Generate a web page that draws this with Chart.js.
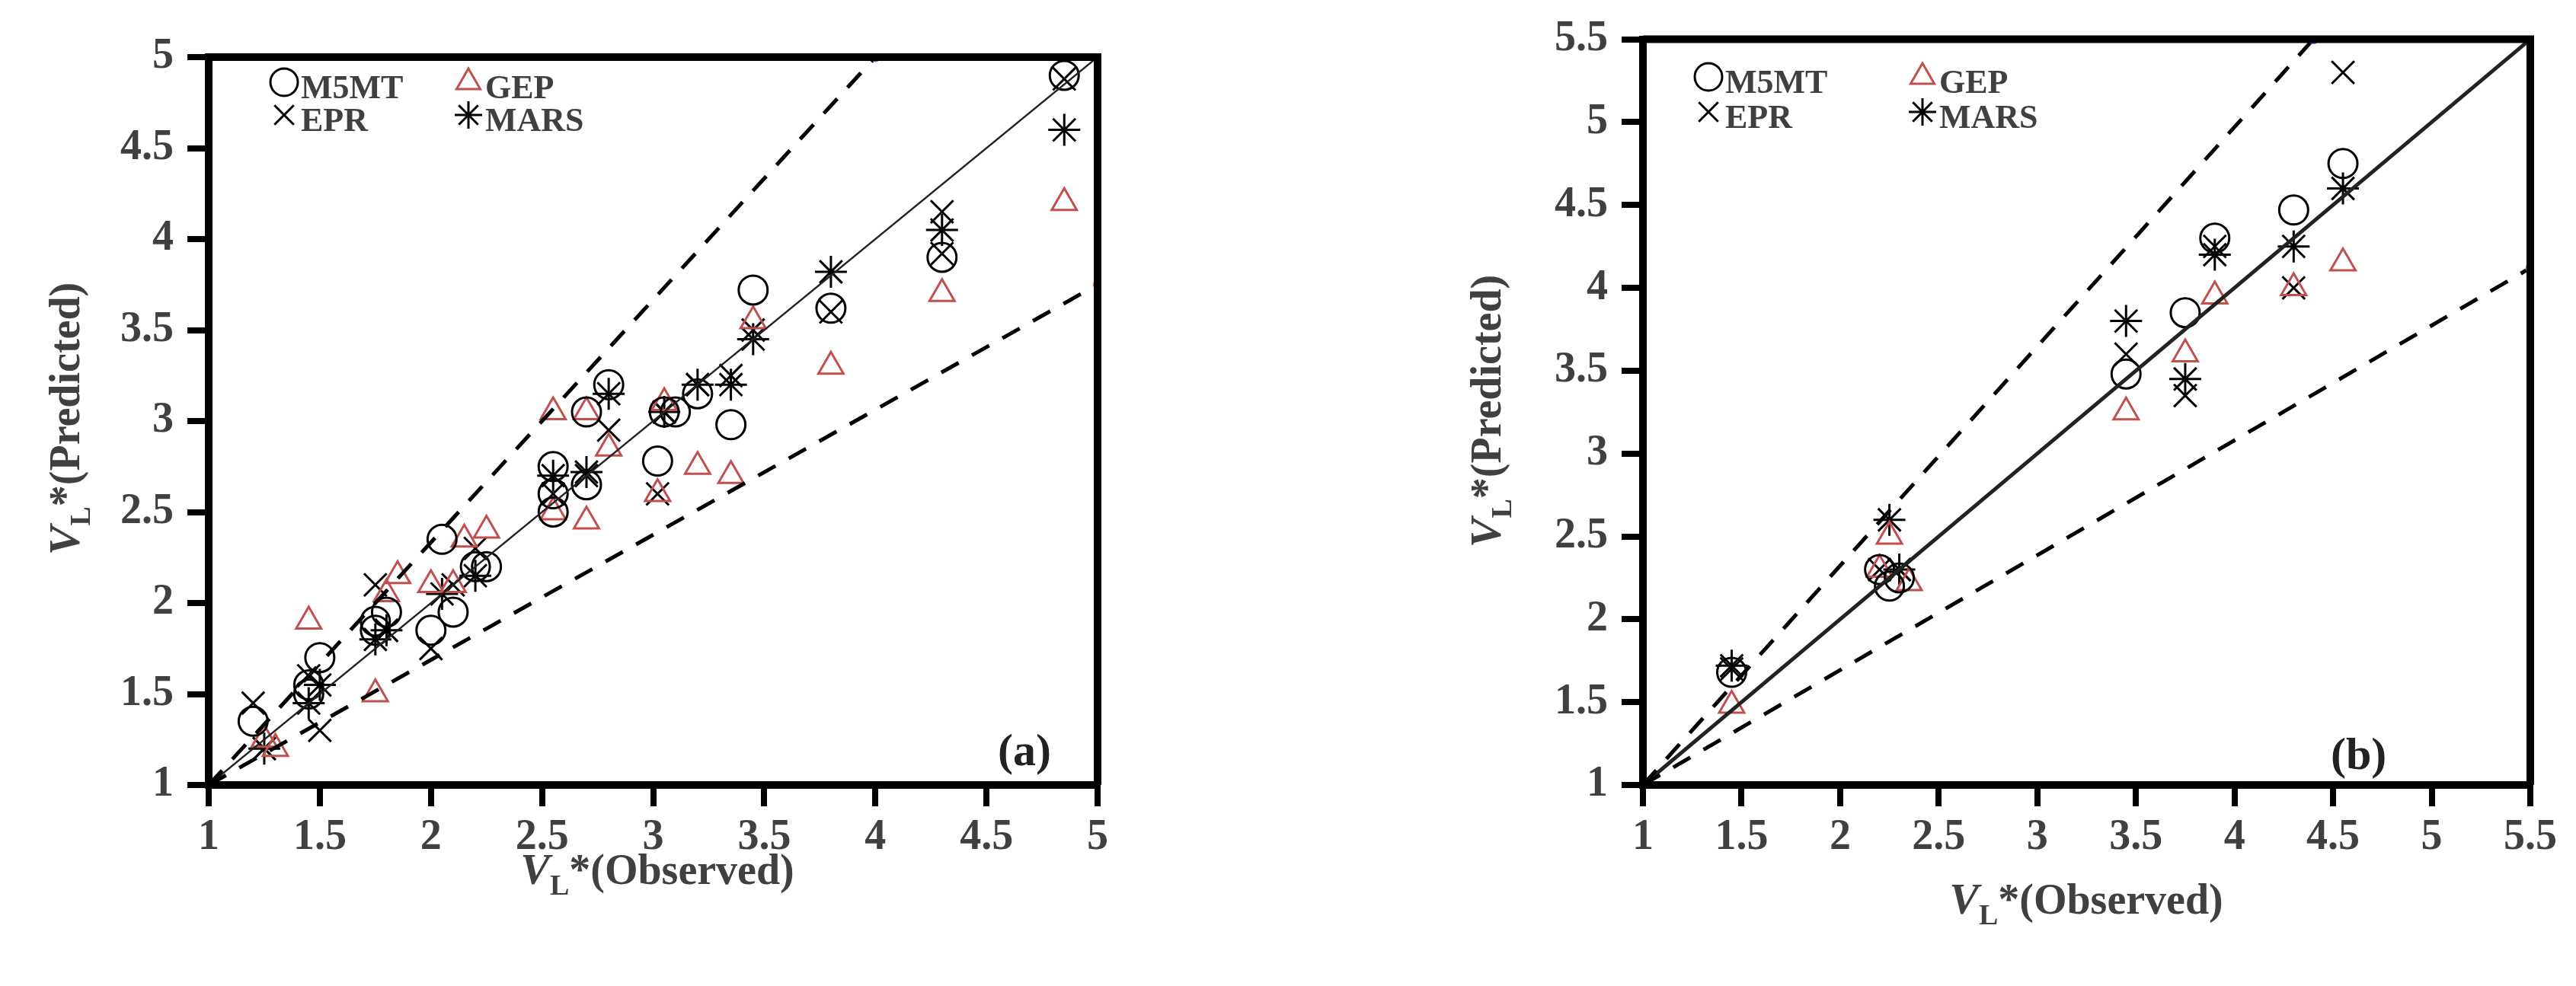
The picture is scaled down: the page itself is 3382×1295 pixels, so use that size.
<!DOCTYPE html><html><head><meta charset="utf-8">
<script src="https://cdn.jsdelivr.net/npm/chart.js@4"></script>
<style>body{margin:0;width:3382px;height:1295px;background:#fff;position:relative;overflow:hidden}
.c{position:absolute;top:0;height:1295px}</style></head><body>
<div class="c" style="left:0;width:1600px"><canvas id="a"></canvas></div>
<div class="c" style="left:1700px;width:1682px"><canvas id="b"></canvas></div>
<script>
const aTicks=["1","1.5","2","2.5","3","3.5","4","4.5","5"];
const bTicks=["1","1.5","2","2.5","3","3.5","4","4.5","5","5.5"];
const aM5MT=[[1.2,1.35],[1.45,1.5],[1.45,1.55],[1.5,1.7],[1.75,1.85],[1.75,1.9],[1.8,1.95],[2,1.85],[2.05,2.35],[2.1,1.95],[2.2,2.2],[2.25,2.2],[2.55,2.75],[2.55,2.5],[2.55,2.6],[2.7,3.05],[2.7,2.65],[2.8,3.2],[3.02,2.78],[3.05,3.05],[3.1,3.05],[3.2,3.15],[3.35,2.98],[3.45,3.72],[3.8,3.62],[4.3,3.9],[4.85,4.9]];
const aGEP=[[1.25,1.25],[1.3,1.2],[1.45,1.9],[1.75,1.5],[1.8,2.05],[1.85,2.15],[2,2.1],[2.1,2.1],[2.15,2.35],[2.25,2.4],[2.55,3.05],[2.55,2.5],[2.7,2.45],[2.7,3.05],[2.8,2.85],[3.02,2.6],[3.05,3.1],[3.2,2.75],[3.35,2.7],[3.45,3.55],[3.8,3.3],[4.3,3.7],[4.85,4.2]];
const aEPR=[[1.2,1.45],[1.25,1.2],[1.45,1.6],[1.5,1.3],[1.75,2.1],[1.8,1.85],[2,1.75],[2.1,2.1],[2.2,2.3],[2.55,2.6],[2.7,2.7],[2.8,2.95],[3.02,2.6],[3.05,3.05],[3.2,3.2],[3.35,3.25],[3.45,3.5],[3.8,3.6],[4.3,4.15],[4.3,3.92],[4.85,4.88]];
const aMARS=[[1.25,1.2],[1.45,1.45],[1.5,1.55],[1.75,1.8],[1.8,1.85],[2.05,2.05],[2.2,2.15],[2.55,2.7],[2.7,2.72],[2.8,3.15],[3.05,3.05],[3.2,3.2],[3.35,3.2],[3.45,3.45],[3.8,3.82],[4.3,4.05],[4.85,4.6]];
const bM5MT=[[1.45,1.68],[2.2,2.3],[2.25,2.2],[2.3,2.25],[3.45,3.48],[3.75,3.85],[3.9,4.3],[4.3,4.47],[4.55,4.75]];
const bGEP=[[1.45,1.48],[2.2,2.3],[2.25,2.5],[2.35,2.22],[3.45,3.25],[3.75,3.6],[3.9,3.95],[4.3,4.0],[4.55,4.15]];
const bEPR=[[1.45,1.7],[2.2,2.3],[2.3,2.3],[3.45,3.6],[3.75,3.35],[3.9,4.25],[4.3,4.0],[4.55,5.3]];
const bMARS=[[1.45,1.72],[2.25,2.6],[2.3,2.3],[3.45,3.8],[3.75,3.45],[3.9,4.2],[4.3,4.25],[4.55,4.6]];
const aLines={ideal:[[1,1],[5,5]],upper:[[1,1],[4,5]],lower:[[1,1],[5,3.75]]};
const bLines={ideal:[[1,1],[5.5,5.5]],upper:[[1,1],[4.4,5.5]],lower:[[1,1],[5.5,4.12]]};
const RED='#c0504d';
const pts=a=>a.map(p=>({x:p[0],y:p[1]}));
function drawVL(ctx,x,y,suf,rot){
  ctx.save();ctx.translate(x,y);if(rot)ctx.rotate(-Math.PI/2);
  ctx.fillStyle='#404040';ctx.textBaseline='alphabetic';
  const f1='italic bold 58px "Liberation Serif"',f2='bold 38px "Liberation Serif"',f3='bold 56px "Liberation Serif"';
  ctx.font=f1;const w1=ctx.measureText('V').width;ctx.font=f2;const w2=ctx.measureText('L').width;ctx.font=f3;const w3=ctx.measureText(suf).width;
  let sx=-(w1+w2+w3)/2;
  ctx.font=f1;ctx.fillText('V',sx,18);ctx.font=f2;ctx.fillText('L',sx+w1,32);ctx.font=f3;ctx.fillText(suf,sx+w1+w2,18);
  ctx.restore();
}
function make(id,cfg){
  const ds=[
    {data:pts(cfg.lines.upper),showLine:true,borderDash:[26,20],borderWidth:5,borderColor:'#000',pointRadius:[0,5],pointBackgroundColor:'#fff',pointBorderColor:'#4a7ab5',pointBorderWidth:3},
    {data:pts(cfg.lines.lower),showLine:true,borderDash:[26,20],borderWidth:5,borderColor:'#000',pointRadius:[0,5],pointBackgroundColor:'#fff',pointBorderColor:cfg.lowCol,pointBorderWidth:3},
    {data:pts(cfg.lines.ideal),showLine:true,borderWidth:cfg.idealW,borderColor:'#222',pointRadius:[0,cfg.idealPt],pointBackgroundColor:'#fff',pointBorderColor:'#4a7ab5',pointBorderWidth:3},
    {data:pts(cfg.m5),showLine:false,pointStyle:'circle',pointRadius:19,borderColor:'#000',backgroundColor:'transparent',pointBorderWidth:3},
    {data:pts(cfg.gep),showLine:false,pointStyle:'triangle',pointRadius:19,borderColor:RED,backgroundColor:'transparent',pointBorderWidth:3},
    {data:pts(cfg.epr),showLine:false,pointStyle:'crossRot',pointRadius:21,borderColor:'#000',pointBorderWidth:3},
    {data:pts(cfg.mars),showLine:false,pointStyle:'star',pointRadius:21,borderColor:'#000',pointBorderWidth:3}
  ];
  const tickOpt=(labels)=>({autoSkip:false,stepSize:0.5,color:'#404040',font:{family:'Liberation Serif',size:56,weight:'bold'},callback:(v)=>labels.includes(String(v))?String(v):''});
  const grid={drawOnChartArea:false,color:'#000',lineWidth:8,tickLength:28,offset:false};
  new Chart(document.getElementById(id),{type:'scatter',data:{datasets:ds},
    options:{responsive:true,maintainAspectRatio:false,animation:false,
      layout:{padding:{left:0,top:cfg.top,right:cfg.right,bottom:0}},
      plugins:{legend:{display:false},tooltip:{enabled:false}},
      scales:{
        x:{type:'linear',min:1,max:cfg.max,ticks:{...tickOpt(cfg.ticks),padding:8},grid,border:{color:'#000',width:10},afterFit:s=>{s.height=264}},
        y:{type:'linear',min:1,max:cfg.max,ticks:{...tickOpt(cfg.ticks),padding:18},grid,border:{color:'#000',width:10},afterFit:s=>{s.width=cfg.yw}}
      }},
    plugins:[{id:'deco',afterDraw(ch){
      const c=ch.ctx,A=ch.chartArea;
      c.save();c.strokeStyle='#000';c.lineWidth=10;c.beginPath();c.moveTo(A.left,A.top);c.lineTo(A.right,A.top);c.lineTo(A.right,A.bottom);c.stroke();
      const H=Chart.helpers;
      const L=cfg.leg;
      const items=[['circle','#000','M5MT',L.x1,L.y1],['triangle',RED,'GEP',L.x2,L.y1],['crossRot','#000','EPR',L.x1,L.y2],['star','#000','MARS',L.x2,L.y2]];
      c.font='bold 44px "Liberation Serif"';c.textBaseline='middle';
      items.forEach(([st,col,t,x,y])=>{c.strokeStyle=col;c.fillStyle='rgba(0,0,0,0)';c.lineWidth=3;H.drawPoint(c,{pointStyle:st,radius:18,borderWidth:3},x,y);c.fillStyle='#404040';c.fillText(t,x+22,y+10);});
      c.font='bold 60px "Liberation Serif"';c.fillStyle='#222';c.textBaseline='alphabetic';c.fillText(cfg.tag,cfg.tagx,cfg.tagy);
      c.restore();
      drawVL(c,cfg.xt[0],cfg.xt[1],'*(Observed)',false);
      drawVL(c,cfg.yt[0],cfg.yt[1],'*(Predicted)',true);
    }}]});
}
make('a',{max:5,ticks:aTicks,m5:aM5MT,gep:aGEP,epr:aEPR,mars:aMARS,lines:aLines,idealW:2.5,idealPt:0,lowCol:'#f79646',top:75,right:159,yw:274,
  leg:{x1:373,x2:615,y1:108,y2:151},tag:'(a)',tagx:1310,tagy:1005,xt:[863,1143],yt:[86,550]});
make('b',{max:5.5,ticks:bTicks,m5:bM5MT,gep:bGEP,epr:bEPR,mars:bMARS,lines:bLines,idealW:5,idealPt:5,lowCol:'#4bacc6',top:47,right:60,yw:457,
  leg:{x1:543,x2:824,y1:101,y2:147},tag:'(b)',tagx:1360,tagy:1010,xt:[1039,1182],yt:[252,540]});
</script></body></html>
